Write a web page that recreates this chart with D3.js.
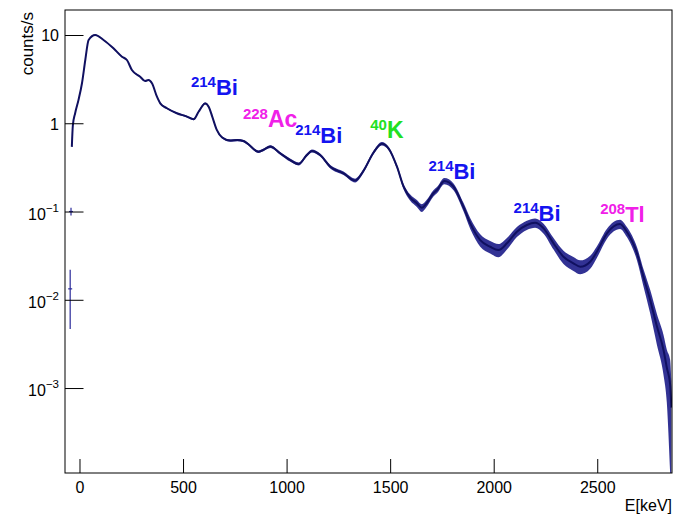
<!DOCTYPE html>
<html>
<head>
<meta charset="utf-8">
<script src="https://cdn.jsdelivr.net/npm/d3@7"></script>
<style>
  body { margin: 0; background: #fff; }
  text { font-family: "Liberation Sans", Arial, Helvetica, sans-serif; }
</style>
</head>
<body>
<svg id="chart"></svg>
<script>
// gamma spectrum (keV, counts/s, relative error)
var energy = [-45, -41, -37, -32, -21, -5, 12, 28, 44, 76, 116, 164, 205, 229, 253, 293, 317, 333, 350,
  374, 390, 422, 470, 519, 551, 575, 607, 625, 641, 663, 689, 728, 762, 792, 810, 864, 887, 921,
  969, 1017, 1058, 1098, 1122, 1162, 1211, 1275, 1331, 1371, 1420, 1460, 1492, 1533, 1565, 1597,
  1629, 1653, 1674, 1709, 1726, 1762, 1806, 1854, 1887, 1935, 1983, 2023, 2064, 2112, 2160, 2200,
  2241, 2289, 2337, 2385, 2418, 2466, 2498, 2547, 2610, 2643, 2692, 2723, 2756, 2788, 2820, 2836,
  2852, 2858];
var rate = [0.0133, 0.1, 0.54, 0.95, 1.30, 1.83, 2.84, 5.21, 8.78, 10.0, 8.78, 7.06, 5.68, 5.21, 4.01,
  3.37, 3.01, 3.09, 2.84, 2.00, 1.68, 1.48, 1.30, 1.19, 1.11, 1.35, 1.68, 1.52, 1.19, 0.84, 0.69,
  0.637, 0.646, 0.629, 0.593, 0.476, 0.498, 0.545, 0.457, 0.383, 0.345, 0.437, 0.485, 0.437, 0.322,
  0.271, 0.2245, 0.288, 0.466, 0.586, 0.520, 0.322, 0.191, 0.144, 0.124, 0.110, 0.122, 0.161, 0.175,
  0.222, 0.191, 0.113, 0.0735, 0.0475, 0.0399, 0.0366, 0.0436, 0.0590, 0.0703, 0.0746, 0.0645,
  0.0436, 0.0307, 0.0259, 0.0237, 0.0270, 0.0350, 0.0566, 0.0720, 0.0590, 0.0336, 0.0183, 0.0099,
  0.0050, 0.0027, 0.0017, 0.0011, 0.0006];
var relErr = [0.65, 0.1, 0.04, 0.04, 0.03, 0.03, 0.02, 0.015, 0.015, 0.015, 0.015, 0.015, 0.015, 0.015,
  0.015, 0.015, 0.015, 0.015, 0.015, 0.015, 0.015, 0.02, 0.02, 0.025, 0.025, 0.025, 0.025, 0.025,
  0.025, 0.025, 0.025, 0.03, 0.03, 0.03, 0.03, 0.03, 0.03, 0.035, 0.035, 0.04, 0.04, 0.04, 0.04,
  0.04, 0.045, 0.045, 0.05, 0.05, 0.045, 0.045, 0.045, 0.055, 0.07, 0.08, 0.09, 0.1, 0.09, 0.08, 0.08,
  0.08, 0.09, 0.11, 0.14, 0.16, 0.16, 0.17, 0.15, 0.13, 0.12, 0.12, 0.13, 0.15, 0.17, 0.18, 0.18,
  0.17, 0.15, 0.13, 0.12, 0.13, 0.17, 0.22, 0.3, 0.38, 0.48, 0.6, 0.9, 1.0];

// peak annotations: mass number, element, anchor in data units (keV, counts/s)
var labelMass = ["214", "228", "214", "40", "214", "214", "208"];
var labelSym = ["Bi", "Ac", "Bi", "K", "Bi", "Bi", "Tl"];
var labelE = [538, 789, 1042, 1404, 1685, 2096, 2514];
var labelRate = [2.09, 0.914, 0.602, 0.681, 0.233, 0.0787, 0.0766];

var xTicks = [0, 500, 1000, 1500, 2000, 2500];
var yTickExp = [-3, -2, -1, 0, 1];

var symColor = { Bi: "#1414f0", Ac: "#f020e8", K: "#22e022", Tl: "#f020e8" };
var symSize = { Bi: 22, Ac: 23, K: 23, Tl: 22 };

var width = 675, height = 514;
var frameL = 65, frameR = 672, frameT = 10, frameB = 473;

var svg = d3.select("#chart")
    .attr("width", width)
    .attr("height", height);

var x = d3.scaleLinear().domain([-70, 2861]).range([frameL, frameR]);
var y = d3.scaleLog().domain([1.09e-4, 19.2]).range([frameB, frameT]);

var data = energy.map(function(e, i) {
  return { e: e, v: rate[i], err: relErr[i] };
});
// the first bins below threshold are isolated points, not part of the curve
function onCurve(d) { return d.e > -40; }

svg.append("clipPath").attr("id", "clip")
  .append("rect")
    .attr("x", frameL).attr("y", frameT)
    .attr("width", frameR - frameL).attr("height", frameB - frameT);

var plot = svg.append("g").attr("clip-path", "url(#clip)");

function lowY(d) { return y(Math.max(d.v * (1 - d.err), 5e-5)); }
function highY(d) { return y(d.v * (1 + d.err)); }

// error band
var band = d3.area()
    .defined(onCurve)
    .x(function(d) { return x(d.e); })
    .y0(lowY)
    .y1(highY)
    .curve(d3.curveMonotoneX);

plot.append("path")
    .datum(data)
    .attr("d", band)
    .attr("fill", "#1c1c88")
    .attr("fill-opacity", 0.9);

var line = d3.line()
    .defined(onCurve)
    .x(function(d) { return x(d.e); })
    .y(function(d) { return y(d.v); })
    .curve(d3.curveMonotoneX);

plot.append("path")
    .datum(data)
    .attr("d", line)
    .attr("fill", "none")
    .attr("stroke", "#101060")
    .attr("stroke-width", 2);

// isolated low-energy bins with error bars
var iso = plot.selectAll(".iso")
    .data(data.filter(function(d) { return !onCurve(d); }))
  .enter().append("g").attr("class", "iso");
iso.append("line")
    .attr("x1", function(d) { return x(d.e); })
    .attr("x2", function(d) { return x(d.e); })
    .attr("y1", lowY)
    .attr("y2", highY)
    .attr("stroke", "#2a2a9a")
    .attr("stroke-width", 1.2);
iso.append("line")
    .attr("x1", function(d) { return x(d.e) - 2; })
    .attr("x2", function(d) { return x(d.e) + 2; })
    .attr("y1", function(d) { return y(d.v); })
    .attr("y2", function(d) { return y(d.v); })
    .attr("stroke", "#2a2a9a")
    .attr("stroke-width", 1.2);

// x axis, ticks pointing inward
var xMinor = d3.range(0, 2900, 100).filter(function(v) { return v % 500 !== 0 && v < 2861; });

var gx = svg.append("g").attr("transform", "translate(0," + frameB + ")");
gx.call(d3.axisBottom(x).tickValues(xMinor).tickSize(-7).tickFormat(""));
gx.call(d3.axisBottom(x).tickValues(xTicks).tickSize(-14).tickPadding(9).tickFormat(d3.format("d")));
gx.selectAll(".domain").remove();
gx.selectAll("text").attr("font-size", 16).attr("fill", "#000")
    .style("font-family", "'Liberation Sans', Arial, sans-serif");
gx.selectAll("line").attr("stroke", "#000");

// y axis (log), ticks pointing inward
var yMinor = [];
for (var p = -4; p <= 1; p++) {
  for (var m = 2; m <= 9; m++) {
    var v = m * Math.pow(10, p);
    if (v > 1.09e-4 && v < 19.2) yMinor.push(v);
  }
}
var yMajor = yTickExp.map(function(k) { return Math.pow(10, k); });

var gy = svg.append("g").attr("transform", "translate(" + frameL + ",0)");
gy.call(d3.axisLeft(y).tickValues(yMinor).tickSize(-9).tickFormat(""));
gy.call(d3.axisLeft(y).tickValues(yMajor).tickSize(-18.5).tickFormat(""));
gy.selectAll(".domain").remove();
gy.selectAll("line").attr("stroke", "#000");

var yLab = svg.append("g");
yTickExp.forEach(function(k) {
  var t = yLab.append("text")
      .attr("x", 59)
      .attr("text-anchor", "end")
      .attr("font-size", 16)
      .attr("fill", "#000");
  if (k === 0) {
    t.attr("y", y(1) + 6.3).text("1");
  } else if (k === 1) {
    t.attr("y", y(10) + 6.3).text("10");
  } else {
    t.attr("y", y(Math.pow(10, k)) + 8);
    t.append("tspan").text("10");
    t.append("tspan").attr("font-size", 11.5).attr("dy", -8).text("\u2212" + (-k));
  }
});

// frame
svg.append("rect")
    .attr("x", frameL).attr("y", frameT)
    .attr("width", frameR - frameL).attr("height", frameB - frameT)
    .attr("fill", "none")
    .attr("stroke", "#000")
    .attr("stroke-width", 1);

// axis titles
svg.append("text")
    .attr("x", frameR).attr("y", 511)
    .attr("text-anchor", "end")
    .attr("font-size", 16)
    .text("E[keV]");

svg.append("text")
    .attr("transform", "translate(33,12) rotate(-90)")
    .attr("text-anchor", "end")
    .attr("font-size", 17)
    .text("counts/s");

// peak labels
labelSym.forEach(function(sym, i) {
  var t = svg.append("text")
      .attr("x", x(labelE[i]))
      .attr("y", y(labelRate[i]))
      .attr("font-weight", "bold")
      .attr("fill", symColor[sym]);
  t.append("tspan").attr("font-size", 15).attr("dy", -8).text(labelMass[i]);
  t.append("tspan").attr("font-size", symSize[sym]).attr("dy", 8).text(sym);
});
</script>
</body>
</html>
